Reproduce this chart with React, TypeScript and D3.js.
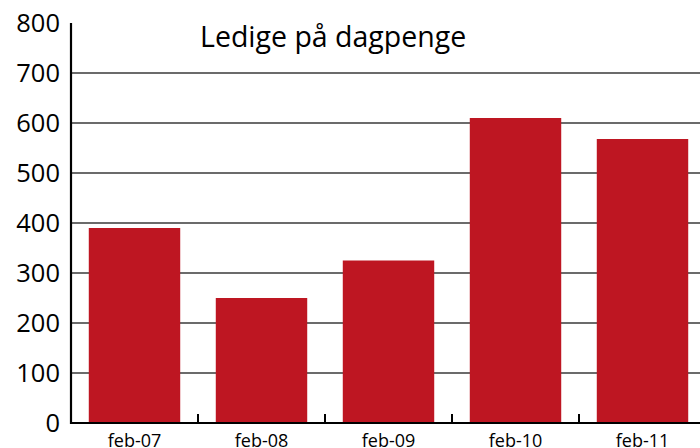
import * as d3 from "d3";

const categories = ["feb-07", "feb-08", "feb-09", "feb-10", "feb-11"];
const values = [390, 250, 325, 610, 568];
const yTicks = [0, 100, 200, 300, 400, 500, 600, 700, 800];
const title = "Ledige på dagpenge";

const W = 700;
const H = 448;
const marginLeft = 71;
const marginTop = 23;
const baseline = 423;
const plotRight = 706;

const font = "'Open Sans', sans-serif";

const App = () => {
  const x = d3
    .scaleBand<string>()
    .domain(categories)
    .range([marginLeft, plotRight])
    .paddingInner(0.28)
    .paddingOuter(0.14);

  const y = d3.scaleLinear().domain([0, 800]).range([baseline, marginTop]);

  // category boundaries, where the little ticks sit
  const boundaries = categories.slice(1).map((c) => (x(c) as number) - (x.step() * x.paddingInner()) / 2);

  return (
    <div style={{ position: "fixed", left: 0, top: 0 }}>
      <svg width={W} height={H} viewBox={`0 0 ${W} ${H}`} style={{ display: "block", background: "#fff" }}>
        {yTicks
          .filter((t) => t > 0 && t < 800)
          .map((t) => (
            <line key={t} x1={marginLeft} x2={W} y1={y(t)} y2={y(t)} stroke="#3a3a3a" strokeWidth={1.6} />
          ))}

        {categories.map((c, i) => (
          <rect
            key={c}
            x={x(c)}
            y={y(values[i])}
            width={x.bandwidth()}
            height={baseline - y(values[i])}
            fill="#BE1622"
          />
        ))}

        <line x1={marginLeft} x2={marginLeft} y1={marginTop} y2={baseline + 1} stroke="#000" strokeWidth={2.2} />
        <line x1={marginLeft - 1} x2={W} y1={baseline} y2={baseline} stroke="#000" strokeWidth={2.2} />
        {boundaries.map((b, i) => (
          <line key={i} x1={b} x2={b} y1={baseline} y2={baseline - 9} stroke="#000" strokeWidth={2} />
        ))}

        {yTicks.map((t) => (
          <text
            key={t}
            x={60}
            y={y(t)}
            dy="0.36em"
            textAnchor="end"
            fontFamily={font}
            fontSize={25.5}
            fill="#000"
          >
            {t}
          </text>
        ))}

        {categories.map((c) => (
          <text
            key={c}
            x={(x(c) as number) + x.bandwidth() / 2}
            y={447}
            textAnchor="middle"
            fontFamily={font}
            fontSize={18}
            fill="#000"
          >
            {c}
          </text>
        ))}

        <text x={200} y={47} fontFamily={font} fontSize={28.5} fill="#000">
          {title}
        </text>
      </svg>
    </div>
  );
};

export default App;
